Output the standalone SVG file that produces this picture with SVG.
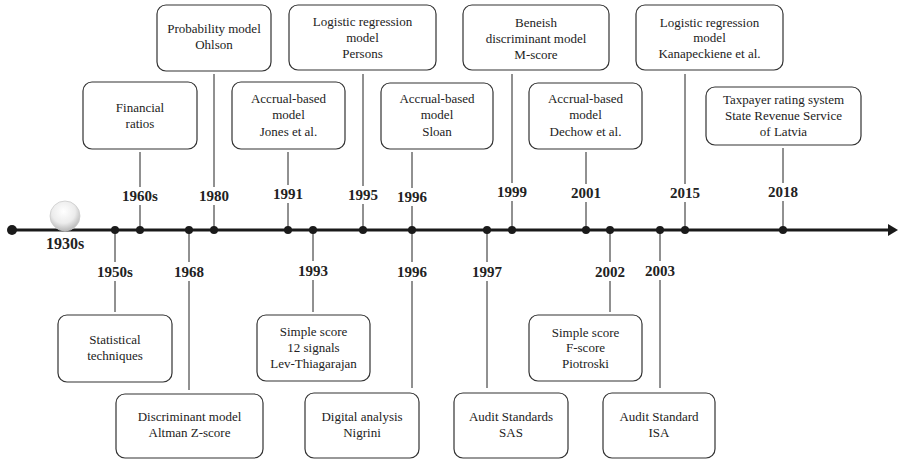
<svg xmlns="http://www.w3.org/2000/svg" width="900" height="461" viewBox="0 0 900 461">
<style>
.box{fill:#fff;stroke:#333;stroke-width:1.2}
.bt{font-family:"Liberation Serif","Times New Roman",serif;font-size:13px;fill:#222;text-anchor:middle}
.yr{font-family:"Liberation Serif","Times New Roman",serif;font-size:15px;font-weight:bold;fill:#222;text-anchor:middle}
.cn{stroke:#222;stroke-width:1;fill:none}
.dot{fill:#1a1a1a}
</style>
<defs>
<radialGradient id="sph" cx="0.45" cy="0.35" r="0.65">
<stop offset="0" stop-color="#ffffff"/>
<stop offset="0.6" stop-color="#ececec"/>
<stop offset="1" stop-color="#b8b8b8"/>
</radialGradient>
</defs>
<g id="timeline">
<line x1="12" y1="230" x2="890" y2="230" stroke="#1a1a1a" stroke-width="3"/>
<circle cx="12" cy="230" r="5" class="dot"/>
<polygon points="888,224 898,230 888,236" fill="#1a1a1a"/>
<circle cx="65" cy="216" r="15" fill="url(#sph)" stroke="#ccc" stroke-width="0.8"/>
<text x="65" y="249" class="yr" style="font-size:16px">1930s</text>
</g>
<g id="connectors">
<path class="cn" d="M140 152V187M140 205V230M214 74V187M214 205V230M288 152V185M288 203V230M363 74V186M363 204V230M412 152V188M412 206V230M512 74V183M512 201V230M586 152V184M586 202V230M685 74V184M685 202V230M783 148V183M783 201V230"/>
<path class="cn" d="M115 230V262M115 281V312M189 230V262M189 281V390M313 230V261M313 280V312M412 230V262M412 281V388M487 230V262M487 281V388M610 230V262M610 281V312M660 230V261M660 280V388"/>
</g>
<g id="dots">
<circle cx="115" cy="230" r="4" class="dot"/>
<circle cx="140" cy="230" r="4" class="dot"/>
<circle cx="189" cy="230" r="4" class="dot"/>
<circle cx="214" cy="230" r="4" class="dot"/>
<circle cx="288" cy="230" r="4" class="dot"/>
<circle cx="313" cy="230" r="4" class="dot"/>
<circle cx="363" cy="230" r="4" class="dot"/>
<circle cx="412" cy="230" r="4" class="dot"/>
<circle cx="487" cy="230" r="4" class="dot"/>
<circle cx="512" cy="230" r="4" class="dot"/>
<circle cx="586" cy="230" r="4" class="dot"/>
<circle cx="610" cy="230" r="4" class="dot"/>
<circle cx="660" cy="230" r="4" class="dot"/>
<circle cx="685" cy="230" r="4" class="dot"/>
<circle cx="783" cy="230" r="4" class="dot"/>
</g>
<g id="years">
<text x="140" y="201" class="yr">1960s</text>
<text x="214" y="201" class="yr">1980</text>
<text x="288" y="199" class="yr">1991</text>
<text x="363" y="200" class="yr">1995</text>
<text x="412" y="202" class="yr">1996</text>
<text x="512" y="197" class="yr">1999</text>
<text x="586" y="198" class="yr">2001</text>
<text x="685" y="198" class="yr">2015</text>
<text x="783" y="197" class="yr">2018</text>
<text x="115" y="277" class="yr">1950s</text>
<text x="189" y="277" class="yr">1968</text>
<text x="313" y="276" class="yr">1993</text>
<text x="412" y="277" class="yr">1996</text>
<text x="487" y="277" class="yr">1997</text>
<text x="610" y="277" class="yr">2002</text>
<text x="660" y="276" class="yr">2003</text>
</g>
<g id="n-financial"><rect x="83" y="82" width="114" height="67" rx="9" class="box"/><text x="140" y="112" class="bt">Financial</text><text x="140" y="128" class="bt">ratios</text></g>
<g id="n-ohlson"><rect x="157" y="5" width="114" height="66" rx="9" class="box"/><text x="214" y="33" class="bt">Probability model</text><text x="214" y="49" class="bt">Ohlson</text></g>
<g id="n-jones"><rect x="232" y="82" width="113" height="67" rx="9" class="box"/><text x="288.5" y="103" class="bt">Accrual-based</text><text x="288.5" y="119" class="bt">model</text><text x="288.5" y="136" class="bt">Jones et al.</text></g>
<g id="n-persons"><rect x="289" y="5" width="147" height="65" rx="9" class="box"/><text x="362.5" y="26" class="bt">Logistic regression</text><text x="362.5" y="42" class="bt">model</text><text x="362.5" y="58" class="bt">Persons</text></g>
<g id="n-sloan"><rect x="381" y="83" width="112" height="66" rx="9" class="box"/><text x="437" y="103" class="bt">Accrual-based</text><text x="437" y="119" class="bt">model</text><text x="437" y="136" class="bt">Sloan</text></g>
<g id="n-beneish"><rect x="463" y="5" width="146" height="65" rx="9" class="box"/><text x="536" y="27" class="bt">Beneish</text><text x="536" y="43" class="bt">discriminant model</text><text x="536" y="59" class="bt">M-score</text></g>
<g id="n-dechow"><rect x="529" y="83" width="113" height="66" rx="9" class="box"/><text x="585.5" y="103" class="bt">Accrual-based</text><text x="585.5" y="119" class="bt">model</text><text x="585.5" y="136" class="bt">Dechow et al.</text></g>
<g id="n-kanap"><rect x="636" y="5" width="147" height="65" rx="9" class="box"/><text x="709.5" y="27" class="bt">Logistic regression</text><text x="709.5" y="42" class="bt">model</text><text x="709.5" y="58" class="bt">Kanapeckiene et al.</text></g>
<g id="n-taxpayer"><rect x="706" y="87" width="155" height="58" rx="9" class="box"/><text x="783.5" y="104" class="bt">Taxpayer rating system</text><text x="783.5" y="120" class="bt">State Revenue Service</text><text x="783.5" y="136" class="bt">of Latvia</text></g>
<g id="n-statistical"><rect x="58" y="315" width="114" height="67" rx="9" class="box"/><text x="115" y="344" class="bt">Statistical</text><text x="115" y="360" class="bt">techniques</text></g>
<g id="n-altman"><rect x="116" y="394" width="147" height="64" rx="9" class="box"/><text x="189.5" y="421" class="bt">Discriminant model</text><text x="189.5" y="437" class="bt">Altman Z-score</text></g>
<g id="n-lev"><rect x="257" y="315" width="113" height="66" rx="9" class="box"/><text x="313.5" y="336" class="bt">Simple score</text><text x="313.5" y="352" class="bt">12 signals</text><text x="313.5" y="368" class="bt">Lev-Thiagarajan</text></g>
<g id="n-nigrini"><rect x="305" y="393" width="114" height="65" rx="9" class="box"/><text x="362" y="421" class="bt">Digital analysis</text><text x="362" y="437" class="bt">Nigrini</text></g>
<g id="n-sas"><rect x="454" y="393" width="114" height="65" rx="9" class="box"/><text x="511" y="421" class="bt">Audit Standards</text><text x="511" y="437" class="bt">SAS</text></g>
<g id="n-piotroski"><rect x="529" y="315" width="113" height="66" rx="9" class="box"/><text x="585.5" y="337" class="bt">Simple score</text><text x="585.5" y="352" class="bt">F-score</text><text x="585.5" y="368" class="bt">Piotroski</text></g>
<g id="n-isa"><rect x="603" y="393" width="112" height="65" rx="9" class="box"/><text x="659" y="421" class="bt">Audit Standard</text><text x="659" y="437" class="bt">ISA</text></g>
</svg>
